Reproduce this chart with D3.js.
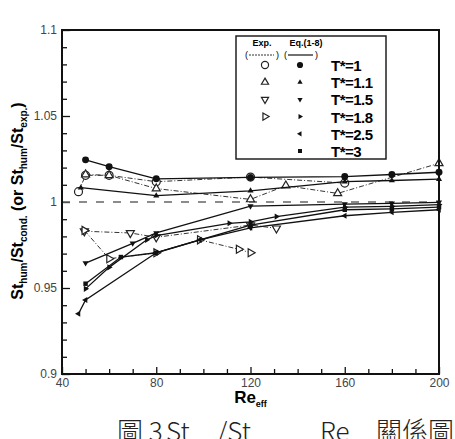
<!DOCTYPE html>
<html>
<head>
<meta charset="utf-8">
<script src="https://cdn.jsdelivr.net/npm/d3@7"></script>
<style>
  body { margin:0; background:#fff; }
  svg { display:block; font-family:"Liberation Sans", Arial, sans-serif; }
</style>
</head>
<body>
<svg id="drawing_region"></svg>
<script>
// T* values (legend order)
const temps = ['1', '1.1', '1.5', '1.8', '2.5', '3'];

// Exp. (open markers, dash-dot lines)  [Re_eff, ratio]
const expT1  = [[47,1.006],[50,1.0155],[60,1.0155],[80,1.0118],[120,1.0145],[160,1.011]];
const expT11 = [[50,1.016],[60,1.0155],[80,1.0078],[120,1.0015],[135,1.0095],[157,1.005],[200,1.0225]];
const expT15 = [[49.5,0.983],[69,0.982],[80,0.9795],[120,0.9866],[131,0.9847]];
const expT18 = [[49.5,0.9835],[60,0.967],[80,0.9705],[98.5,0.978],[115,0.9725],[120,0.9705]];

// Eq.(1-8) (filled markers, solid lines)
const eqT1  = [[50,1.0245],[60,1.0205],[80,1.0135],[120,1.0143],[160,1.0148],[180,1.016],[200,1.0173]];
const eqT11 = [[48,1.0083],[80,1.0037],[120,1.0065],[160,1.0118],[180,1.0125],[200,1.0133]];
const eqT15 = [[50,0.9645],[70,0.976],[80,0.982],[120,0.9976],[160,0.9988],[180,0.9992],[200,0.9998]];
const eqT18 = [[50,0.9495],[60,0.962],[76,0.978],[80,0.9805],[111,0.9876],[120,0.9885],[131,0.9915],[160,0.997],[180,0.9975],[200,0.9985]];
const eqT25 = [[47,0.935],[50,0.943],[80,0.9705],[98.5,0.978],[120,0.985],[160,0.992],[180,0.994],[200,0.9955]];
const eqT3  = [[50,0.9525],[65,0.968],[80,0.9705],[120,0.9866],[160,0.9955],[180,0.996],[200,0.997]];

const xTicks = [40, 80, 120, 160, 200];
const yTicks = [0.9, 0.95, 1, 1.05, 1.1];

// marker kind per T*
const symbols = ['circle', 'up', 'down', 'right', 'left', 'square'];

const expSeries = [expT1, expT11, expT15, expT18];
const eqSeries  = [eqT1, eqT11, eqT15, eqT18, eqT25, eqT3];

const config = {
    parent: '#drawing_region',
    width: 455,
    height: 439,
    margin: {top:30, right:16, bottom:65, left:62}
};

const svg = d3.select(config.parent)
    .attr('width', config.width)
    .attr('height', config.height);

const inner_width = config.width - config.margin.left - config.margin.right;
const inner_height = config.height - config.margin.top - config.margin.bottom;

const chart = svg.append('g')
    .attr('transform', `translate(${config.margin.left}, ${config.margin.top})`);

const xscale = d3.scaleLinear().domain([40, 200]).range([0, inner_width]);
const yscale = d3.scaleLinear().domain([0.9, 1.1]).range([inner_height, 0]);

// minor ticks (inward)
const xminor = d3.axisBottom(xscale)
    .tickValues(d3.range(40, 201, 10).filter(d => d % 40 !== 0))
    .tickSize(-5).tickFormat('');
const yminor = d3.axisLeft(yscale)
    .tickValues(d3.range(0.9, 1.1001, 0.01).filter(d => Math.abs(d*20 - Math.round(d*20)) > 1e-6))
    .tickSize(-5).tickFormat('');

const xaxis = d3.axisBottom(xscale)
    .tickValues(xTicks).tickSize(-7).tickPadding(4)
    .tickFormat(d => d);
const yaxis = d3.axisLeft(yscale)
    .tickValues(yTicks).tickSize(-8).tickPadding(5)
    .tickFormat(d => d);

chart.append('g').attr('transform', `translate(0, ${inner_height})`).call(xminor);
chart.append('g').call(yminor);
chart.append('g').attr('transform', `translate(0, ${inner_height})`).call(xaxis);
chart.append('g').call(yaxis);

chart.selectAll('.domain').remove();
chart.selectAll('.tick line').attr('stroke', '#111').attr('stroke-width', 1.3);
chart.selectAll('.tick text')
    .attr('fill', '#444')
    .style('font-size', '12px')
    .style('font-family', '"Liberation Sans", Arial, sans-serif');

// reference line at 1
chart.append('line')
    .attr('x1', 0).attr('x2', inner_width)
    .attr('y1', yscale(1)).attr('y2', yscale(1))
    .attr('stroke', '#666')
    .attr('stroke-width', 1.6)
    .attr('stroke-dasharray', '8,9');

const line = d3.line()
    .x(d => xscale(d[0]))
    .y(d => yscale(d[1]));

function symbolPath(kind, size) {
    if (kind === 'circle') return d3.symbol(d3.symbolCircle, size)();
    if (kind === 'square') return d3.symbol(d3.symbolSquare, size)();
    return d3.symbol(d3.symbolTriangle, size)();
}
function symbolRotate(kind) {
    return {up:0, down:180, right:90, left:-90}[kind] || 0;
}

// Exp. series
expSeries.forEach((s, i) => {
    chart.append('path')
        .attr('d', line(s))
        .attr('fill', 'none')
        .attr('stroke', '#333')
        .attr('stroke-width', 1)
        .attr('stroke-dasharray', '5,2,1,2');
    chart.selectAll(null)
        .data(s)
        .enter()
        .append('path')
        .attr('d', symbolPath(symbols[i], symbols[i] === 'circle' ? 50 : 28))
        .attr('transform', d => `translate(${xscale(d[0])},${yscale(d[1])}) rotate(${symbolRotate(symbols[i])})`)
        .attr('fill', '#fff')
        .attr('stroke', '#222')
        .attr('stroke-width', 1.2);
});

// Eq. series
eqSeries.forEach((s, i) => {
    chart.append('path')
        .attr('d', line(s))
        .attr('fill', 'none')
        .attr('stroke', '#111')
        .attr('stroke-width', 1.3);
    chart.selectAll(null)
        .data(s)
        .enter()
        .append('path')
        .attr('d', symbolPath(symbols[i], symbols[i] === 'circle' ? 38 : (symbols[i] === 'square' ? 20 : 16)))
        .attr('transform', d => `translate(${xscale(d[0])},${yscale(d[1])}) rotate(${symbolRotate(symbols[i])})`)
        .attr('fill', '#111');
});

// frame
chart.append('rect')
    .attr('width', inner_width).attr('height', inner_height)
    .attr('fill', 'none')
    .attr('stroke', '#111')
    .attr('stroke-width', 2);

// legend
const legend = svg.append('g');
legend.append('rect')
    .attr('x', 236).attr('y', 36).attr('width', 150).attr('height', 123)
    .attr('fill', '#fff').attr('stroke', '#111').attr('stroke-width', 1.4);
legend.append('text').attr('x', 262).attr('y', 46).attr('text-anchor', 'middle')
    .style('font-size', '9px').style('font-weight', 'bold').text('Exp.');
legend.append('text').attr('x', 306).attr('y', 46).attr('text-anchor', 'middle')
    .style('font-size', '9px').style('font-weight', 'bold').text('Eq.(1-8)');
legend.append('text').attr('x', 245).attr('y', 58).style('font-size', '9px').text('(');
legend.append('line').attr('x1', 249).attr('x2', 274).attr('y1', 55).attr('y2', 55)
    .attr('stroke', '#333').attr('stroke-width', 1).attr('stroke-dasharray', '2,1');
legend.append('text').attr('x', 276).attr('y', 58).style('font-size', '9px').text(')');
legend.append('text').attr('x', 284).attr('y', 58).style('font-size', '9px').text('(');
legend.append('line').attr('x1', 288).attr('x2', 313).attr('y1', 55).attr('y2', 55)
    .attr('stroke', '#111').attr('stroke-width', 1.2);
legend.append('text').attr('x', 315).attr('y', 58).style('font-size', '9px').text(')');

const rowY = d3.scaleLinear().domain([0, 5]).range([65, 151]);
temps.forEach((t, i) => {
    const k = symbols[i];
    if (i < expSeries.length) {
        legend.append('path')
            .attr('d', symbolPath(k, k === 'circle' ? 40 : 22))
            .attr('transform', `translate(265,${rowY(i)}) rotate(${symbolRotate(k)})`)
            .attr('fill', '#fff').attr('stroke', '#222').attr('stroke-width', 1.2);
    }
    legend.append('path')
        .attr('d', symbolPath(k, k === 'circle' ? 30 : (k === 'square' ? 16 : 12)))
        .attr('transform', `translate(300,${rowY(i)}) rotate(${symbolRotate(k)})`)
        .attr('fill', '#111');
    legend.append('text')
        .attr('x', 331).attr('y', rowY(i) + 6)
        .style('font-size', '15px').style('font-weight', 'bold')
        .style('letter-spacing', '-0.5px')
        .text('T*=' + t);
});

// axis labels
const ylab = svg.append('text')
    .attr('transform', 'translate(23, 201) rotate(-90)')
    .attr('text-anchor', 'middle')
    .style('font-size', '16px').style('font-weight', 'bold');
ylab.append('tspan').text('St');
ylab.append('tspan').attr('dy', 4).style('font-size', '10px').text('hum');
ylab.append('tspan').attr('dy', -4).text('/St');
ylab.append('tspan').attr('dy', 4).style('font-size', '10px').text('cond.');
ylab.append('tspan').attr('dy', -4).text(' (or St');
ylab.append('tspan').attr('dy', 4).style('font-size', '10px').text('hum');
ylab.append('tspan').attr('dy', -4).text('/St');
ylab.append('tspan').attr('dy', 4).style('font-size', '10px').text('exp.');
ylab.append('tspan').attr('dy', -4).text(')');

const xlab = svg.append('text')
    .attr('x', config.margin.left + inner_width / 2)
    .attr('y', 403)
    .attr('text-anchor', 'middle')
    .style('font-size', '17px').style('font-weight', 'bold');
xlab.append('tspan').text('Re');
xlab.append('tspan').attr('dy', 4).style('font-size', '9px').text('eff');

// caption (cut off at bottom edge, as in the source)
const cap = svg.append('text')
    .attr('y', 441)
    .attr('fill', '#222')
    .style('font-family', '"Noto Sans CJK TC", sans-serif')
    .style('font-size', '26px')
    .style('font-weight', '300');
cap.append('tspan').attr('x', 117).text('圖 3');
cap.append('tspan').attr('x', 166).text('St');
cap.append('tspan').attr('dy', 8).style('font-size', '12px').text('hum');
cap.append('tspan').attr('x', 217).attr('dy', -8).text('/St');
cap.append('tspan').attr('dy', 8).style('font-size', '12px').text('cond.');
cap.append('tspan').attr('x', 320).attr('dy', -8).text('Re');
cap.append('tspan').attr('dy', 8).style('font-size', '12px').text('eff');
cap.append('tspan').attr('x', 376).attr('dy', -8).text('關係圖');
</script>
</body>
</html>
